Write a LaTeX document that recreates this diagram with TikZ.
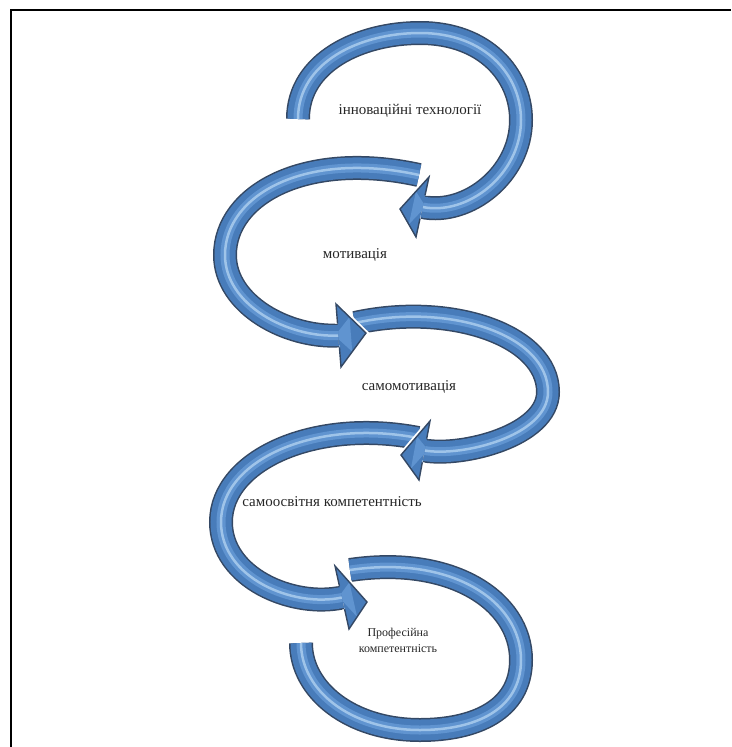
\documentclass[tikz,border=0pt]{standalone}
\usepackage{fontspec}
\setmainfont{Liberation Serif}
\usetikzlibrary{calc}
\definecolor{arrowdark}{RGB}{52,72,100}
\definecolor{arrowblue}{RGB}{72,124,186}
\definecolor{arrowmid}{RGB}{96,148,208}
\definecolor{arrowlight}{RGB}{175,208,240}
\tikzset{
  bandout/.style={line width=24pt, draw=arrowdark},
  bandin/.style={line width=21pt, draw=arrowblue},
  bandmid/.style={line width=9pt, draw=arrowmid},
  gloss/.style={line width=2.5pt, draw=arrowlight, opacity=0.8},
  headfill/.style={fill=arrowblue},
  headgap/.style={draw=white, line width=5pt, line join=miter},
  headedge/.style={draw=arrowdark, line width=1.4pt, line join=miter},
  lbl/.style={font=\fontsize{15}{17}\selectfont, text=black!85, inner sep=0pt},
  lblsmall/.style={font=\fontsize{12}{16}\selectfont, text=black!85, inner sep=0pt, align=center},
  frameline/.style={line width=2pt, draw=black}
}
\newcommand\myband[1]{%
  \draw[bandout] #1;
  \draw[bandin] #1;
  \draw[bandmid] #1;
  \draw[gloss] #1;}
% #1 corner a, #2 tip, #3 corner b, #4 base centre
\newcommand\myhead[4]{%
  \coordinate (ea) at ($(#4)!12pt!(#1)$);
  \coordinate (eb) at ($(#4)!12pt!(#3)$);
  \draw[headgap] (ea) -- (#1) -- (#2) -- (#3) -- (eb);
  \fill[headfill] (ea) -- (#1) -- (#2) -- (#3) -- (eb) -- cycle;
  \fill[arrowmid] ($(#4)!4pt!(#1)$) -- ($(#1)!0.45!(#2)$) -- ($(#3)!0.45!(#2)$) -- ($(#4)!4pt!(#3)$) -- cycle;
  \draw[headedge] (ea) -- (#1) -- (#2) -- (#3) -- (eb);}
\begin{document}
\begin{tikzpicture}[x=1pt,y=-1pt]
\useasboundingbox (0,0) rectangle (731,747);
\coordinate (frBL) at (11,747);
\coordinate (frTL) at (11,10);
\coordinate (frTR) at (731,10);
\draw[frameline] (frBL) -- (frTL) -- (frTR);

% head geometry
\coordinate (A1) at (429,177); \coordinate (T1) at (400,209); \coordinate (C1) at (416,237); \coordinate (B1) at (422.5,207);
\coordinate (A2) at (336,304); \coordinate (T2) at (366,333); \coordinate (C2) at (341,367); \coordinate (B2) at (338.5,335.5);
\coordinate (A3) at (430,421); \coordinate (T3) at (401,455); \coordinate (C3) at (419,480); \coordinate (B3) at (424.5,450.5);
\coordinate (A4) at (335,566); \coordinate (T4) at (367,602); \coordinate (C4) at (349,629); \coordinate (B4) at (342,597.5);

% tails
\coordinate (S1) at (298,119);
\coordinate (S2) at (419,175);
\coordinate (S3) at (355,323);
\coordinate (S4) at (418,438);
\coordinate (S5) at (350,570);
\coordinate (E5) at (301,643);

% bands
\myband{(S1) .. controls (298,62) and (360,33) .. (420,33) .. controls (485,33) and (521,75) .. (521,120) .. controls (521,175) and (467,216) .. (B1)}
\myband{(S2) .. controls (305,150) and (225,195) .. (225,255) .. controls (225,305) and (288,338) .. (B2)}
\myband{(S3) .. controls (450,302) and (548,335) .. (548,392) .. controls (548,436) and (462,457) .. (B3)}
\myband{(S4) .. controls (315,418) and (221,460) .. (221,522) .. controls (221,578) and (293,608) .. (B4)}
\myband{(S5) .. controls (450,555) and (521,600) .. (521,660) .. controls (521,710) and (475,730) .. (420,730) .. controls (350,730) and (301,690) .. (E5)}

% heads
\myhead{A1}{T1}{C1}{B1}
\myhead{A2}{T2}{C2}{B2}
\myhead{A3}{T3}{C3}{B3}
\myhead{A4}{T4}{C4}{B4}

% labels
\node[lbl] (l1) at (410,111) {інноваційні технології};
\node[lbl] (l2) at (355,255) {мотивація};
\node[lbl] (l3) at (409,387) {самомотивація};
\node[lbl] (l4) at (332,502) {самоосвітня компетентність};
\node[lblsmall] (l5) at (398,640) {Професійна\\компетентність};
\end{tikzpicture}
\end{document}
